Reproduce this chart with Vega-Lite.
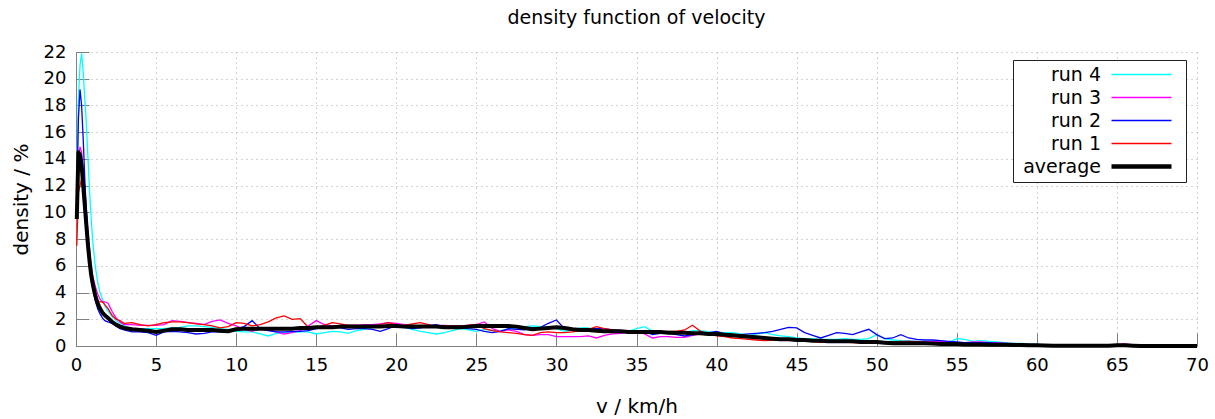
{
"$schema":"https://vega.github.io/schema/vega-lite/v6.json",
"width":1121,"height":294,
"autosize":{"type":"none"},
"padding":{"left":76,"top":52,"right":18,"bottom":73},
"background":"white",
"config":{"font":"DejaVu Sans","view":{"stroke":null},
 "axis":{"domainColor":"#808080","domainWidth":1,"tickColor":"#808080","tickSize":-13,"labelPadding":23,"labelFlush":false,"gridColor":"#a8a8a8","gridDash":[1,4],"labelFontSize":18,"labelColor":"black","titleFontSize":20,"titleFontWeight":"normal","titleColor":"black","labelFont":"DejaVu Sans","titleFont":"DejaVu Sans"}},
"title":{"text":"density function of velocity","fontSize":19,"fontWeight":"normal","font":"DejaVu Sans","color":"black","frame":"group","anchor":"middle","offset":15},
"datasets":{"d":[
{"v":0.05,"a":9.5,"r1":7.5,"r2":11,"r3":10,"r4":12},
{"v":0.15,"a":14.5,"r1":11.5,"r2":17,"r3":14,"r4":18.5},
{"v":0.25,"a":14.3,"r1":12,"r2":19.2,"r3":14.9,"r4":21},
{"v":0.35,"a":13.5,"r1":12.5,"r2":18,"r3":14.5,"r4":21.9},
{"v":0.45,"a":12,"r1":11.5,"r2":15.5,"r3":13,"r4":20.5},
{"v":0.55,"a":10.5,"r1":10,"r2":12.5,"r3":11.5,"r4":18.5},
{"v":0.65,"a":9,"r1":8.5,"r2":10,"r3":10,"r4":16.5},
{"v":0.75,"a":7.5,"r1":7.2,"r2":8,"r3":8.5,"r4":14},
{"v":0.85,"a":6.3,"r1":6,"r2":6.5,"r3":7.2,"r4":11.5},
{"v":0.95,"a":5.3,"r1":5,"r2":5.3,"r3":6,"r4":9.5},
{"v":1.05,"a":4.6,"r1":4.4,"r2":4.3,"r3":5.2,"r4":7.8},
{"v":1.2,"a":3.8,"r1":3.8,"r2":3.4,"r3":4.5,"r4":6},
{"v":1.35,"a":3.2,"r1":3.3,"r2":2.8,"r3":3.9,"r4":4.8},
{"v":1.5,"a":2.8,"r1":3.3,"r2":2.4,"r3":3.5,"r4":4},
{"v":1.65,"a":2.5,"r1":3.3,"r2":2.1,"r3":3.3,"r4":3.5},
{"v":1.8,"a":2.3,"r1":3.1,"r2":1.9,"r3":3.3,"r4":3},
{"v":2.0,"a":2.1,"r1":2.8,"r2":1.8,"r3":3.2,"r4":2.6},
{"v":2.25,"a":1.8,"r1":2.3,"r2":1.7,"r3":2.6,"r4":2.2},
{"v":2.5,"a":1.6,"r1":2.0,"r2":1.5,"r3":2.1,"r4":1.9},
{"v":2.75,"a":1.45,"r1":1.9,"r2":1.3,"r3":1.8,"r4":1.7},
{"v":3.0,"a":1.35,"r1":1.7,"r2":1.2,"r3":1.6,"r4":1.5},
{"v":3.5,"a":1.25,"r1":1.75,"r2":1.05,"r3":1.6,"r4":1.3},
{"v":4.0,"a":1.2,"r1":1.6,"r2":1.05,"r3":1.55,"r4":1.3},
{"v":4.5,"a":1.15,"r1":1.5,"r2":1.0,"r3":1.55,"r4":1.3},
{"v":5.0,"a":1.05,"r1":1.6,"r2":0.8,"r3":1.55,"r4":1.3},
{"v":5.5,"a":1.15,"r1":1.75,"r2":1.05,"r3":1.6,"r4":1.3},
{"v":6.0,"a":1.25,"r1":1.8,"r2":1.1,"r3":1.9,"r4":1.35},
{"v":6.5,"a":1.25,"r1":1.8,"r2":1.05,"r3":1.85,"r4":1.4},
{"v":7.0,"a":1.2,"r1":1.75,"r2":1.0,"r3":1.75,"r4":1.5},
{"v":7.5,"a":1.2,"r1":1.65,"r2":0.9,"r3":1.7,"r4":1.5},
{"v":8.0,"a":1.2,"r1":1.6,"r2":0.95,"r3":1.6,"r4":1.45},
{"v":8.5,"a":1.2,"r1":1.5,"r2":1.05,"r3":1.85,"r4":1.4},
{"v":9.0,"a":1.15,"r1":1.35,"r2":1.05,"r3":1.95,"r4":1.3},
{"v":9.5,"a":1.1,"r1":1.45,"r2":1.1,"r3":1.7,"r4":1.25},
{"v":10.0,"a":1.25,"r1":1.75,"r2":1.3,"r3":1.5,"r4":1.1},
{"v":10.5,"a":1.3,"r1":1.7,"r2":1.45,"r3":1.25,"r4":1.05},
{"v":11.0,"a":1.3,"r1":1.5,"r2":1.9,"r3":1.1,"r4":1.05},
{"v":11.5,"a":1.3,"r1":1.6,"r2":1.3,"r3":1.3,"r4":0.9},
{"v":12.0,"a":1.3,"r1":1.8,"r2":1.15,"r3":1.2,"r4":0.75},
{"v":12.5,"a":1.3,"r1":2.1,"r2":1.05,"r3":1.05,"r4":0.95},
{"v":13.0,"a":1.3,"r1":2.25,"r2":1.05,"r3":0.9,"r4":1.0},
{"v":13.5,"a":1.3,"r1":2.0,"r2":1.1,"r3":1.0,"r4":1.0},
{"v":14.0,"a":1.35,"r1":2.05,"r2":1.1,"r3":1.15,"r4":1.05},
{"v":14.5,"a":1.35,"r1":1.4,"r2":1.15,"r3":1.5,"r4":1.05},
{"v":15.0,"a":1.4,"r1":1.35,"r2":1.3,"r3":1.9,"r4":0.9},
{"v":15.5,"a":1.4,"r1":1.55,"r2":1.35,"r3":1.6,"r4":1.0},
{"v":16.0,"a":1.4,"r1":1.75,"r2":1.4,"r3":1.5,"r4":1.1},
{"v":16.5,"a":1.45,"r1":1.65,"r2":1.35,"r3":1.5,"r4":1.05},
{"v":17.0,"a":1.45,"r1":1.55,"r2":1.25,"r3":1.55,"r4":0.95},
{"v":17.5,"a":1.45,"r1":1.55,"r2":1.3,"r3":1.55,"r4":1.15},
{"v":18.0,"a":1.45,"r1":1.5,"r2":1.3,"r3":1.6,"r4":1.25},
{"v":18.5,"a":1.45,"r1":1.5,"r2":1.25,"r3":1.6,"r4":1.4},
{"v":19.0,"a":1.45,"r1":1.6,"r2":1.1,"r3":1.65,"r4":1.65},
{"v":19.5,"a":1.5,"r1":1.75,"r2":1.3,"r3":1.75,"r4":1.7},
{"v":20.0,"a":1.5,"r1":1.6,"r2":1.55,"r3":1.7,"r4":1.5},
{"v":20.5,"a":1.45,"r1":1.55,"r2":1.4,"r3":1.6,"r4":1.4},
{"v":21.0,"a":1.45,"r1":1.65,"r2":1.3,"r3":1.55,"r4":1.25},
{"v":21.5,"a":1.45,"r1":1.75,"r2":1.35,"r3":1.5,"r4":1.1},
{"v":22.0,"a":1.45,"r1":1.6,"r2":1.5,"r3":1.5,"r4":1.0},
{"v":22.5,"a":1.45,"r1":1.45,"r2":1.6,"r3":1.55,"r4":0.9},
{"v":23.0,"a":1.4,"r1":1.5,"r2":1.45,"r3":1.55,"r4":1.0},
{"v":23.5,"a":1.4,"r1":1.5,"r2":1.4,"r3":1.5,"r4":1.15},
{"v":24.0,"a":1.4,"r1":1.5,"r2":1.4,"r3":1.5,"r4":1.3},
{"v":24.5,"a":1.45,"r1":1.55,"r2":1.3,"r3":1.55,"r4":1.2},
{"v":25.0,"a":1.5,"r1":1.6,"r2":1.25,"r3":1.6,"r4":1.1},
{"v":25.5,"a":1.5,"r1":1.3,"r2":1.1,"r3":1.8,"r4":1.25},
{"v":26.0,"a":1.5,"r1":1.15,"r2":1.0,"r3":1.3,"r4":1.15},
{"v":26.5,"a":1.5,"r1":1.05,"r2":1.1,"r3":1.1,"r4":1.15},
{"v":27.0,"a":1.5,"r1":1.0,"r2":1.3,"r3":1.2,"r4":1.25},
{"v":27.5,"a":1.45,"r1":0.95,"r2":1.25,"r3":1.1,"r4":1.35},
{"v":28.0,"a":1.35,"r1":0.85,"r2":1.2,"r3":0.85,"r4":1.45},
{"v":28.5,"a":1.25,"r1":0.8,"r2":1.35,"r3":0.8,"r4":1.5},
{"v":29.0,"a":1.3,"r1":1.0,"r2":1.4,"r3":0.85,"r4":1.45},
{"v":29.5,"a":1.35,"r1":1.05,"r2":1.7,"r3":0.85,"r4":1.45},
{"v":30.0,"a":1.4,"r1":1.0,"r2":1.95,"r3":0.7,"r4":1.3},
{"v":30.5,"a":1.35,"r1":1.0,"r2":1.3,"r3":0.7,"r4":1.1},
{"v":31.0,"a":1.25,"r1":1.05,"r2":1.25,"r3":0.7,"r4":1.2},
{"v":31.5,"a":1.2,"r1":1.15,"r2":1.25,"r3":0.7,"r4":1.35},
{"v":32.0,"a":1.2,"r1":1.25,"r2":1.3,"r3":0.75,"r4":1.35},
{"v":32.5,"a":1.15,"r1":1.45,"r2":1.3,"r3":0.6,"r4":1.2},
{"v":33.0,"a":1.1,"r1":1.3,"r2":1.3,"r3":0.8,"r4":1.1},
{"v":33.5,"a":1.1,"r1":1.2,"r2":1.2,"r3":0.9,"r4":1.1},
{"v":34.0,"a":1.1,"r1":1.1,"r2":1.15,"r3":0.95,"r4":1.05},
{"v":34.5,"a":1.05,"r1":1.1,"r2":1.1,"r3":1.05,"r4":1.1},
{"v":35.0,"a":1.05,"r1":1.1,"r2":1.1,"r3":1.05,"r4":1.3},
{"v":35.5,"a":1.05,"r1":1.05,"r2":1.1,"r3":0.9,"r4":1.45},
{"v":36.0,"a":1.05,"r1":1.1,"r2":0.85,"r3":0.6,"r4":1.1},
{"v":36.5,"a":1.05,"r1":1.05,"r2":0.95,"r3":0.7,"r4":1.1},
{"v":37.0,"a":1.0,"r1":1.1,"r2":0.95,"r3":0.7,"r4":1.05},
{"v":37.5,"a":1.0,"r1":1.1,"r2":0.85,"r3":0.65,"r4":1.0},
{"v":38.0,"a":1.0,"r1":1.2,"r2":0.75,"r3":0.65,"r4":1.0},
{"v":38.5,"a":0.95,"r1":1.55,"r2":0.85,"r3":0.8,"r4":1.15},
{"v":39.0,"a":0.95,"r1":1.1,"r2":0.9,"r3":0.9,"r4":1.15},
{"v":39.5,"a":0.9,"r1":0.9,"r2":1.0,"r3":0.95,"r4":1.05},
{"v":40.0,"a":0.9,"r1":0.75,"r2":1.1,"r3":0.95,"r4":1.0},
{"v":40.5,"a":0.85,"r1":0.7,"r2":0.9,"r3":0.85,"r4":1.0},
{"v":41.0,"a":0.8,"r1":0.6,"r2":0.75,"r3":0.8,"r4":1.0},
{"v":41.5,"a":0.75,"r1":0.55,"r2":0.85,"r3":0.75,"r4":0.9},
{"v":42.0,"a":0.7,"r1":0.5,"r2":0.9,"r3":0.7,"r4":0.75},
{"v":42.5,"a":0.65,"r1":0.45,"r2":0.95,"r3":0.65,"r4":0.9},
{"v":43.0,"a":0.6,"r1":0.4,"r2":1.0,"r3":0.6,"r4":1.0},
{"v":43.5,"a":0.55,"r1":0.45,"r2":1.1,"r3":0.55,"r4":0.85},
{"v":44.0,"a":0.5,"r1":0.5,"r2":1.25,"r3":0.55,"r4":0.75},
{"v":44.5,"a":0.5,"r1":0.45,"r2":1.4,"r3":0.5,"r4":0.7},
{"v":45.0,"a":0.45,"r1":0.4,"r2":1.35,"r3":0.45,"r4":0.6},
{"v":45.5,"a":0.45,"r1":0.4,"r2":1.0,"r3":0.45,"r4":0.55},
{"v":46.0,"a":0.4,"r1":0.35,"r2":0.8,"r3":0.45,"r4":0.55},
{"v":46.5,"a":0.4,"r1":0.3,"r2":0.6,"r3":0.4,"r4":0.5},
{"v":47.0,"a":0.35,"r1":0.3,"r2":0.8,"r3":0.4,"r4":0.5},
{"v":47.5,"a":0.35,"r1":0.3,"r2":1.0,"r3":0.4,"r4":0.5},
{"v":48.0,"a":0.35,"r1":0.3,"r2":0.95,"r3":0.4,"r4":0.55},
{"v":48.5,"a":0.35,"r1":0.25,"r2":0.85,"r3":0.35,"r4":0.5},
{"v":49.0,"a":0.3,"r1":0.25,"r2":1.05,"r3":0.35,"r4":0.5},
{"v":49.5,"a":0.3,"r1":0.25,"r2":1.25,"r3":0.35,"r4":0.55},
{"v":50.0,"a":0.3,"r1":0.25,"r2":0.85,"r3":0.3,"r4":0.85},
{"v":50.5,"a":0.25,"r1":0.3,"r2":0.55,"r3":0.3,"r4":0.55},
{"v":51.0,"a":0.2,"r1":0.3,"r2":0.6,"r3":0.3,"r4":0.45},
{"v":51.5,"a":0.2,"r1":0.35,"r2":0.85,"r3":0.3,"r4":0.4},
{"v":52.0,"a":0.2,"r1":0.35,"r2":0.6,"r3":0.35,"r4":0.4},
{"v":52.5,"a":0.2,"r1":0.3,"r2":0.5,"r3":0.35,"r4":0.35},
{"v":53.0,"a":0.2,"r1":0.25,"r2":0.45,"r3":0.3,"r4":0.35},
{"v":53.5,"a":0.18,"r1":0.2,"r2":0.45,"r3":0.35,"r4":0.3},
{"v":54.0,"a":0.15,"r1":0.15,"r2":0.4,"r3":0.35,"r4":0.3},
{"v":54.5,"a":0.15,"r1":0.15,"r2":0.35,"r3":0.3,"r4":0.3},
{"v":55.0,"a":0.15,"r1":0.1,"r2":0.3,"r3":0.25,"r4":0.55},
{"v":55.5,"a":0.12,"r1":0.1,"r2":0.25,"r3":0.25,"r4":0.5},
{"v":56.0,"a":0.12,"r1":0.15,"r2":0.25,"r3":0.3,"r4":0.35},
{"v":56.5,"a":0.12,"r1":0.15,"r2":0.25,"r3":0.3,"r4":0.4},
{"v":57.0,"a":0.1,"r1":0.15,"r2":0.25,"r3":0.25,"r4":0.35},
{"v":57.5,"a":0.1,"r1":0.15,"r2":0.2,"r3":0.25,"r4":0.3},
{"v":58.0,"a":0.1,"r1":0.15,"r2":0.2,"r3":0.2,"r4":0.25},
{"v":58.5,"a":0.08,"r1":0.1,"r2":0.15,"r3":0.2,"r4":0.2},
{"v":59.0,"a":0.08,"r1":0.1,"r2":0.12,"r3":0.15,"r4":0.2},
{"v":59.5,"a":0.06,"r1":0.08,"r2":0.1,"r3":0.12,"r4":0.15},
{"v":60.0,"a":0.05,"r1":0.05,"r2":0.08,"r3":0.1,"r4":0.12},
{"v":60.5,"a":0.04,"r1":0.03,"r2":0.05,"r3":0.08,"r4":0.08},
{"v":61.0,"a":0.02,"r1":0.02,"r2":0.03,"r3":0.05,"r4":0.05},
{"v":61.5,"a":0.02,"r1":0.02,"r2":0.02,"r3":0.05,"r4":0.03},
{"v":62.0,"a":0.02,"r1":0.02,"r2":0.02,"r3":0.08,"r4":0.03},
{"v":62.5,"a":0.02,"r1":0.01,"r2":0.02,"r3":0.05,"r4":0.02},
{"v":63.0,"a":0.02,"r1":0.01,"r2":0.01,"r3":0.1,"r4":0.02},
{"v":63.5,"a":0.02,"r1":0.01,"r2":0.01,"r3":0.05,"r4":0.02},
{"v":64.0,"a":0.02,"r1":0.01,"r2":0.01,"r3":0.05,"r4":0.01},
{"v":64.5,"a":0.02,"r1":0.0,"r2":0.01,"r3":0.04,"r4":0.01},
{"v":65.0,"a":0.05,"r1":0.01,"r2":0.01,"r3":0.1,"r4":0.01},
{"v":65.5,"a":0.05,"r1":0.02,"r2":0.01,"r3":0.15,"r4":0.01},
{"v":66.0,"a":0.02,"r1":0.0,"r2":0.0,"r3":0.08,"r4":0.0},
{"v":66.5,"a":0.0,"r1":0.0,"r2":0.0,"r3":0.0,"r4":0.0},
{"v":67.0,"a":0.0,"r1":0.0,"r2":0.0,"r3":0.0,"r4":0.0},
{"v":68.0,"a":0.0,"r1":0.0,"r2":0.0,"r3":0.0,"r4":0.0},
{"v":69.0,"a":0.0,"r1":0.0,"r2":0.0,"r3":0.0,"r4":0.0},
{"v":70.0,"a":0.0,"r1":0.0,"r2":0.0,"r3":0.0,"r4":0.0}
]},
"data":{"name":"d"},
"transform":[{"fold":["r4","r3","r2","r1","a"],"as":["key","density"]}],
"encoding":{
 "x":{"field":"v","type":"quantitative","scale":{"domain":[0,70],"nice":false},"axis":{"values":[0,5,10,15,20,25,30,35,40,45,50,55,60,65,70],"title":"v / km/h","titlePadding":22,"grid":true}},
 "y":{"field":"density","type":"quantitative","scale":{"domain":[0,22],"nice":false},"axis":{"values":[0,2,4,6,8,10,12,14,16,18,20,22],"title":"density / %","titlePadding":12,"grid":true}},
 "color":{"field":"key","type":"nominal","scale":{"domain":["r4","r3","r2","r1","a"],"range":["#00ffff","#ff00ff","#0000ff","#ff0000","#000000"]},
  "legend":{"title":null,"orient":"none","legendX":937,"legendY":8,"strokeColor":"#202020","fillColor":"white","padding":5,
   "labelExpr":"{'r4':'run 4','r3':'run 3','r2':'run 2','r1':'run 1','a':'average'}[datum.value]",
   "labelFontSize":19,"labelColor":"black","labelFont":"DejaVu Sans","labelAlign":"right","labelOffset":-50,"symbolOffset":114,
   "symbolType":"M-3,0H3","symbolSize":400,"symbolStrokeWidth":1.5,"rowPadding":3,
   "encode":{"symbols":{"update":{"strokeWidth":{"signal":"datum.value === 'a' ? 4.5 : 1.5"}}}}}}
},
"layer":[
 {"transform":[{"filter":"datum.key != 'a'"}],"mark":{"type":"line","strokeWidth":1.3,"interpolate":"linear"}},
 {"transform":[{"filter":"datum.key == 'a'"}],"mark":{"type":"line","strokeWidth":4,"strokeJoin":"round"}}
]
}
